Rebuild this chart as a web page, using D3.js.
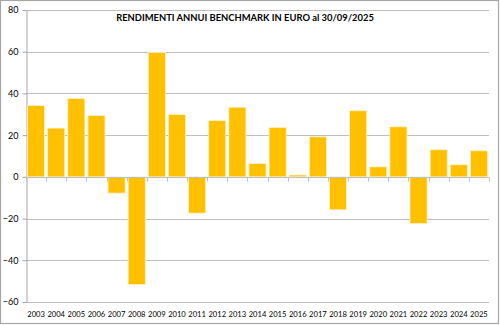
<!DOCTYPE html>
<html><head><meta charset="utf-8">
<script src="https://cdn.jsdelivr.net/npm/d3@7"></script>
<style>body{margin:0;background:#fff}svg{display:block}</style>
</head><body>
<script>
const years = ["2003","2004","2005","2006","2007","2008","2009","2010","2011","2012","2013","2014","2015","2016","2017","2018","2019","2020","2021","2022","2023","2024","2025"];
const returns = [34.2,23.4,37.6,29.4,-7.8,-51.7,59.7,29.9,-17.4,27.0,33.4,6.4,23.7,0.9,19.2,-15.8,31.7,4.8,24.0,-22.4,13.0,5.8,12.5];
const yTicks = [-60,-40,-20,0,20,40,60,80];
const title = "RENDIMENTI ANNUI BENCHMARK IN EURO al 30/09/2025";

(function(){
const W = 500, H = 325;
const FONT = "Lato, 'Open Sans', sans-serif";
const svg = d3.select("body").append("svg").attr("width", W).attr("height", H);
svg.append("rect").attr("x",0.5).attr("y",0.5).attr("width",W-2).attr("height",H-2)
  .attr("fill","#fff").attr("stroke","#a6a6a6").attr("stroke-width",1.2);

const pL = 26, pR = 489, pT = 10, pB = 302;
const x = d3.scaleBand().domain(years).range([pL, pR]).paddingInner(0.15).paddingOuter(0.075);
const y = d3.scaleLinear().domain([-60, 80]).range([pB, pT]);

// gridlines
svg.append("g").selectAll("line").data(yTicks).join("line")
  .attr("x1", pL).attr("x2", pR)
  .attr("y1", d => Math.round(y(d))+0.5).attr("y2", d => Math.round(y(d))+0.5)
  .attr("stroke", "#bfbfbf").attr("stroke-width", 1);

// y axis
const ya = svg.append("g").attr("transform", `translate(${pL+0.5},0)`)
  .call(d3.axisLeft(y).tickValues(yTicks).tickSize(4).tickSizeOuter(0).tickPadding(4));
ya.select(".domain").attr("stroke", "#a6a6a6");
ya.selectAll(".tick line").attr("stroke", "#a6a6a6");
ya.selectAll(".tick text").attr("font-family", FONT).attr("font-size", 9).attr("fill", "#000");

// bars
svg.append("g").selectAll("rect").data(years).join("rect")
  .attr("x", d => x(d))
  .attr("width", x.bandwidth())
  .attr("y", (d,i) => y(Math.max(0, returns[i])))
  .attr("height", (d,i) => Math.abs(y(returns[i]) - y(0)))
  .attr("fill", "#ffc000")
  .attr("stroke", "#fff2cc").attr("stroke-width", 0.8);

// x axis at zero
const zeroY = Math.round(y(0)) + 0.5;
const bounds = d3.range(years.length + 1).map(i => pL + i * (pR-pL)/years.length);
svg.append("line").attr("x1", pL).attr("x2", pR).attr("y1", zeroY).attr("y2", zeroY)
  .attr("stroke", "#bfbfbf").attr("stroke-width", 1);
svg.append("g").selectAll("line").data(bounds).join("line")
  .attr("x1", d => Math.round(d)+0.5).attr("x2", d => Math.round(d)+0.5)
  .attr("y1", zeroY).attr("y2", zeroY + 4)
  .attr("stroke", "#bfbfbf");

// x labels at bottom
svg.append("g").selectAll("text").data(years).join("text")
  .attr("x", d => x(d) + x.bandwidth()/2)
  .attr("y", 317)
  .attr("text-anchor", "middle")
  .attr("font-family", FONT)
  .attr("font-size", 7.6)
  .attr("fill", "#000")
  .text(d => d);

// title
const t = svg.append("text").attr("x", 245).attr("y", 21).attr("text-anchor", "middle")
  .attr("font-family", FONT).attr("font-weight", "bold")
  .attr("font-size", 10).attr("fill", "#000").text(title);
const len = t.node().getComputedTextLength();
if (len > 0) t.attr("font-size", 10 * 258 / len);
})();
</script>
</body></html>
